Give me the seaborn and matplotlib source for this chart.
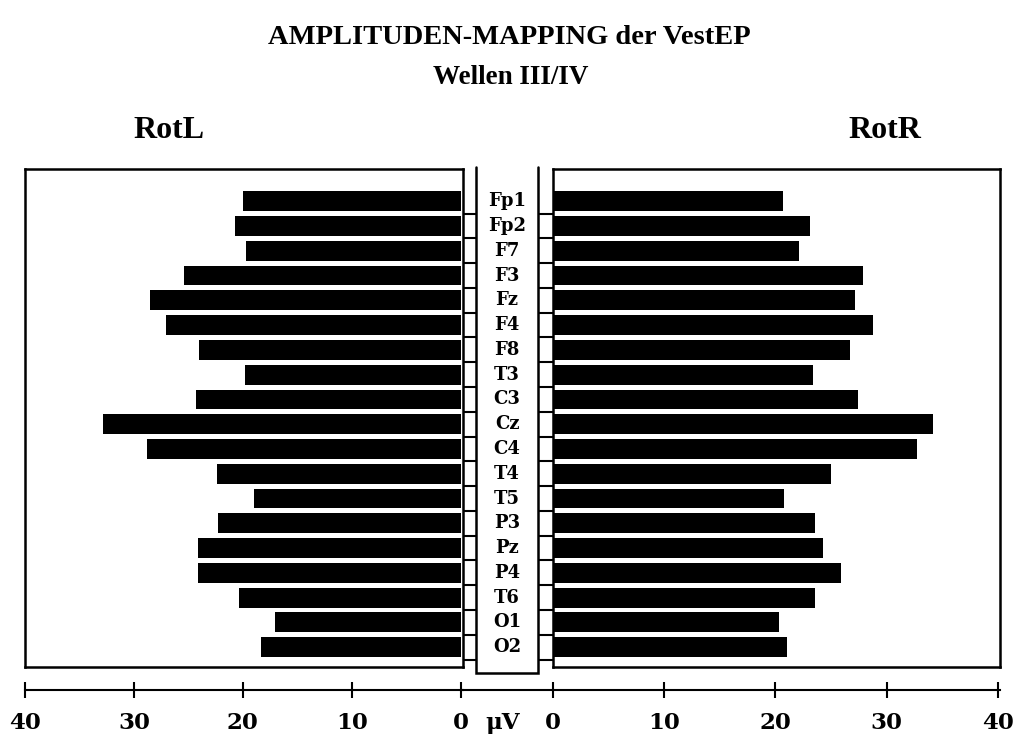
import matplotlib
matplotlib.use("Agg")
import matplotlib.pyplot as plt
import seaborn as sns
import pandas as pd
import numpy as np

# Electrode sites (top to bottom)
electrodes = ["Fp1", "Fp2", "F7", "F3", "Fz", "F4", "F8", "T3", "C3", "Cz",
              "C4", "T4", "T5", "P3", "Pz", "P4", "T6", "O1", "O2"]

# Amplitudes (µV) of waves III/IV for left and right rotation
rot_left = [20.0, 20.7, 19.7, 25.4, 28.5, 27.1, 24.0, 19.8, 24.3, 32.8,
            28.8, 22.4, 19.0, 22.3, 24.1, 24.1, 20.4, 17.1, 18.3]
rot_right = [20.7, 23.1, 22.1, 27.9, 27.2, 28.8, 26.7, 23.4, 27.4, 34.2,
             32.7, 25.0, 20.8, 23.6, 24.3, 25.9, 23.6, 20.3, 21.0]

scale_ticks = [0, 10, 20, 30, 40]
unit_label = "\u03bcV"

df = pd.DataFrame({"Elektrode": electrodes, "RotL": rot_left, "RotR": rot_right})

sns.set_theme(style="white")
plt.rcParams["font.family"] = ["DejaVu Serif"]

W, H = 1019, 736
fig = plt.figure(figsize=(W / 100, H / 100), dpi=100)


def fx(px):
    return px / W


def fy(px):
    return 1 - px / H


top_px, bot_px = 169, 667
ax_h = (bot_px - top_px) / H
axL = fig.add_axes([fx(25), fy(bot_px), fx(463 - 25), ax_h])
axR = fig.add_axes([fx(553), fy(bot_px), fx(1000 - 553), ax_h])
axC = fig.add_axes([fx(463), fy(bot_px), fx(553 - 463), ax_h])

ylims = (len(electrodes) - 1 + 0.8, -1.3)
lw = 1.8
scale_offset = -(690 - bot_px) / (bot_px - top_px)
tick_font = dict(family="DejaVu Serif", weight="bold", size=16.5)

for ax, col, xl in [(axL, "RotL", (40, -0.2)), (axR, "RotR", (0, 40.2))]:
    sns.barplot(data=df, x=col, y="Elektrode", ax=ax, color="black",
                width=0.8, orient="h", saturation=1, edgecolor="none")
    ax.set_xlim(*xl)
    ax.set_ylim(*ylims)
    ax.set_xticks([])
    ax.set_yticks([])
    ax.set_xlabel("")
    ax.set_ylabel("")
    for s in ax.spines.values():
        s.set_visible(True)
        s.set_color("black")
        s.set_linewidth(lw)
    ax.set_facecolor("white")
    # µV scale below each panel
    sec = ax.secondary_xaxis(scale_offset)
    sec.set_xticks(scale_ticks)
    sec.set_xticklabels([str(t) for t in scale_ticks], fontdict=tick_font)
    sec.tick_params(axis="x", direction="inout", length=12, width=1.5,
                    colors="black", pad=10)
    sec.spines["bottom"].set_linewidth(1.5)
    sec.spines["bottom"].set_color("black")

# Centre strip with electrode labels
axC.set_xlim(0, 1)
axC.set_ylim(*ylims)
axC.set_facecolor("none")
for name, s in axC.spines.items():
    s.set_visible(False)
axC.spines["bottom"].set_visible(True)
axC.spines["bottom"].set_position(("axes", scale_offset))
axC.spines["bottom"].set_linewidth(1.5)
axC.spines["bottom"].set_color("black")
axC.set_yticks([])
axC.set_xticks([0.44])
axC.set_xticklabels([unit_label], fontdict=tick_font)
axC.tick_params(axis="x", length=0, pad=16, colors="black")

box_l, box_r = 0.144, 0.833
px_per_y = (bot_px - top_px) / (ylims[0] - ylims[1])
box_bottom = ylims[0] + 6 / px_per_y
box_top = ylims[1] - 2 / px_per_y
n = len(electrodes)
bounds = np.arange(n) + 0.5
axC.hlines(bounds, 0, box_l, color="black", lw=1.5)
axC.hlines(bounds, box_r, 1, color="black", lw=1.5)
axC.plot([box_l, box_l, box_r, box_r], [box_top, box_bottom, box_bottom, box_top],
         color="black", lw=lw, clip_on=False, solid_joinstyle="miter")

for i, name in enumerate(electrodes):
    axC.text(0.49, i, name, ha="center", va="center", fontsize=13,
             fontweight="bold", family="DejaVu Serif", color="black")

title_font = dict(family="Liberation Serif", weight="bold", color="black")
fig.text(fx(509), fy(38), "AMPLITUDEN-MAPPING der VestEP", ha="center",
         va="center", fontsize=20.5, **title_font)
fig.text(fx(511), fy(77), "Wellen III/IV", ha="center", va="center",
         fontsize=19.5, **title_font)
fig.text(fx(169), fy(130), "RotL", ha="center", va="center",
         fontsize=23, **title_font)
fig.text(fx(885), fy(130), "RotR", ha="center", va="center",
         fontsize=23, **title_font)

fig.savefig("out.png", dpi=100, facecolor="white")
